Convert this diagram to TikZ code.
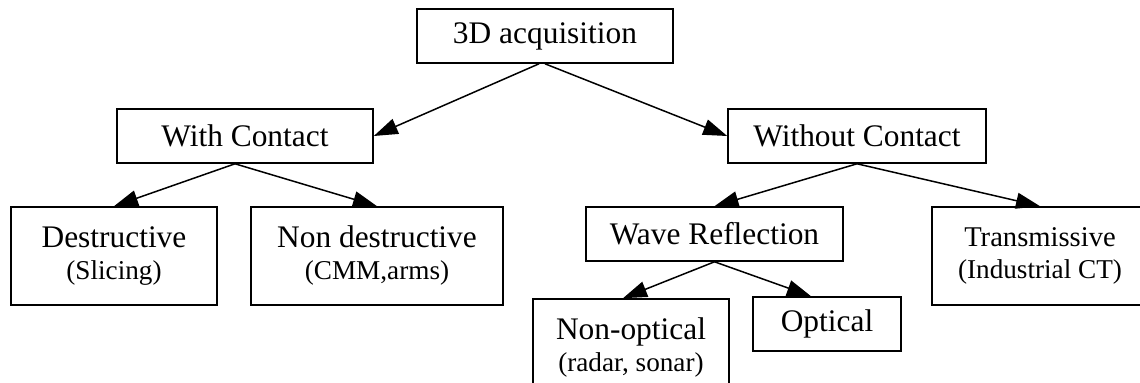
\documentclass[tikz,border=0pt]{standalone}
\usepackage{fontspec}
\setmainfont{Liberation Serif}
\usetikzlibrary{arrows.meta}
\newcommand{\bigtxt}{\fontsize{15.7}{16}\selectfont}
\newcommand{\midtxt}{\fontsize{14.3}{16}\selectfont}
\newcommand{\smalltxt}{\fontsize{13.6}{16}\selectfont}

\begin{document}
\begin{tikzpicture}[x=0.5pt,y=-0.5pt,
		box/.style={draw,line width=0.8pt,inner sep=0pt,align=center,font=\bigtxt,minimum height=27pt},
		tall/.style={box,minimum height=49pt},
		link/.style={line width=0.75pt,-{Triangle[length=12pt,width=8pt]}}]
		\useasboundingbox (0,0) rectangle (1140,383);
		\clip (0,0) rectangle (1140,383);
		\node (acq)[box,minimum width=128pt] at (545,36) {3D acquisition};
		\node (wc)[box,minimum width=128pt] at (245,136) {With Contact};
		\node (woc)[box,minimum width=129pt] at (857,136) {Without Contact};
		\node (dest)[tall,minimum width=103pt] at (114,256) {Destructive\\{\smalltxt (Slicing)}};
		\node (ndest)[tall,minimum width=126pt] at (377,256) {Non destructive\\{\smalltxt (CMM,arms)}};
		\node (wave)[box,minimum width=128.5pt] at (714.5,234) {Wave Reflection};
		\node (trans)[tall,minimum width=108pt] at (1040,256) {{\midtxt Transmissive}\\{\smalltxt (Industrial CT)}};
		\node (nonopt)[tall,minimum width=98pt] at (631,348) {Non-optical\\{\smalltxt (radar, sonar)}};
		\node (opt)[box,minimum width=74pt] at (827,324) {Optical};
		\draw[link] ([xshift=-3pt]acq.south) -- (wc.east);
		\draw[link] (acq.south) -- (woc.west);
		\draw[link] ([xshift=-5pt]wc.south) -- (dest.north);
		\draw[link] ([xshift=-5pt]wc.south) -- (ndest.north);
		\draw[link] (woc.south) -- (wave.north);
		\draw[link] (woc.south) -- (trans.north);
		\draw[link] (wave.south) -- ([xshift=-4pt]nonopt.north);
		\draw[link] (wave.south) -- ([xshift=-8pt]opt.north);
		\end{tikzpicture}
\end{document}
